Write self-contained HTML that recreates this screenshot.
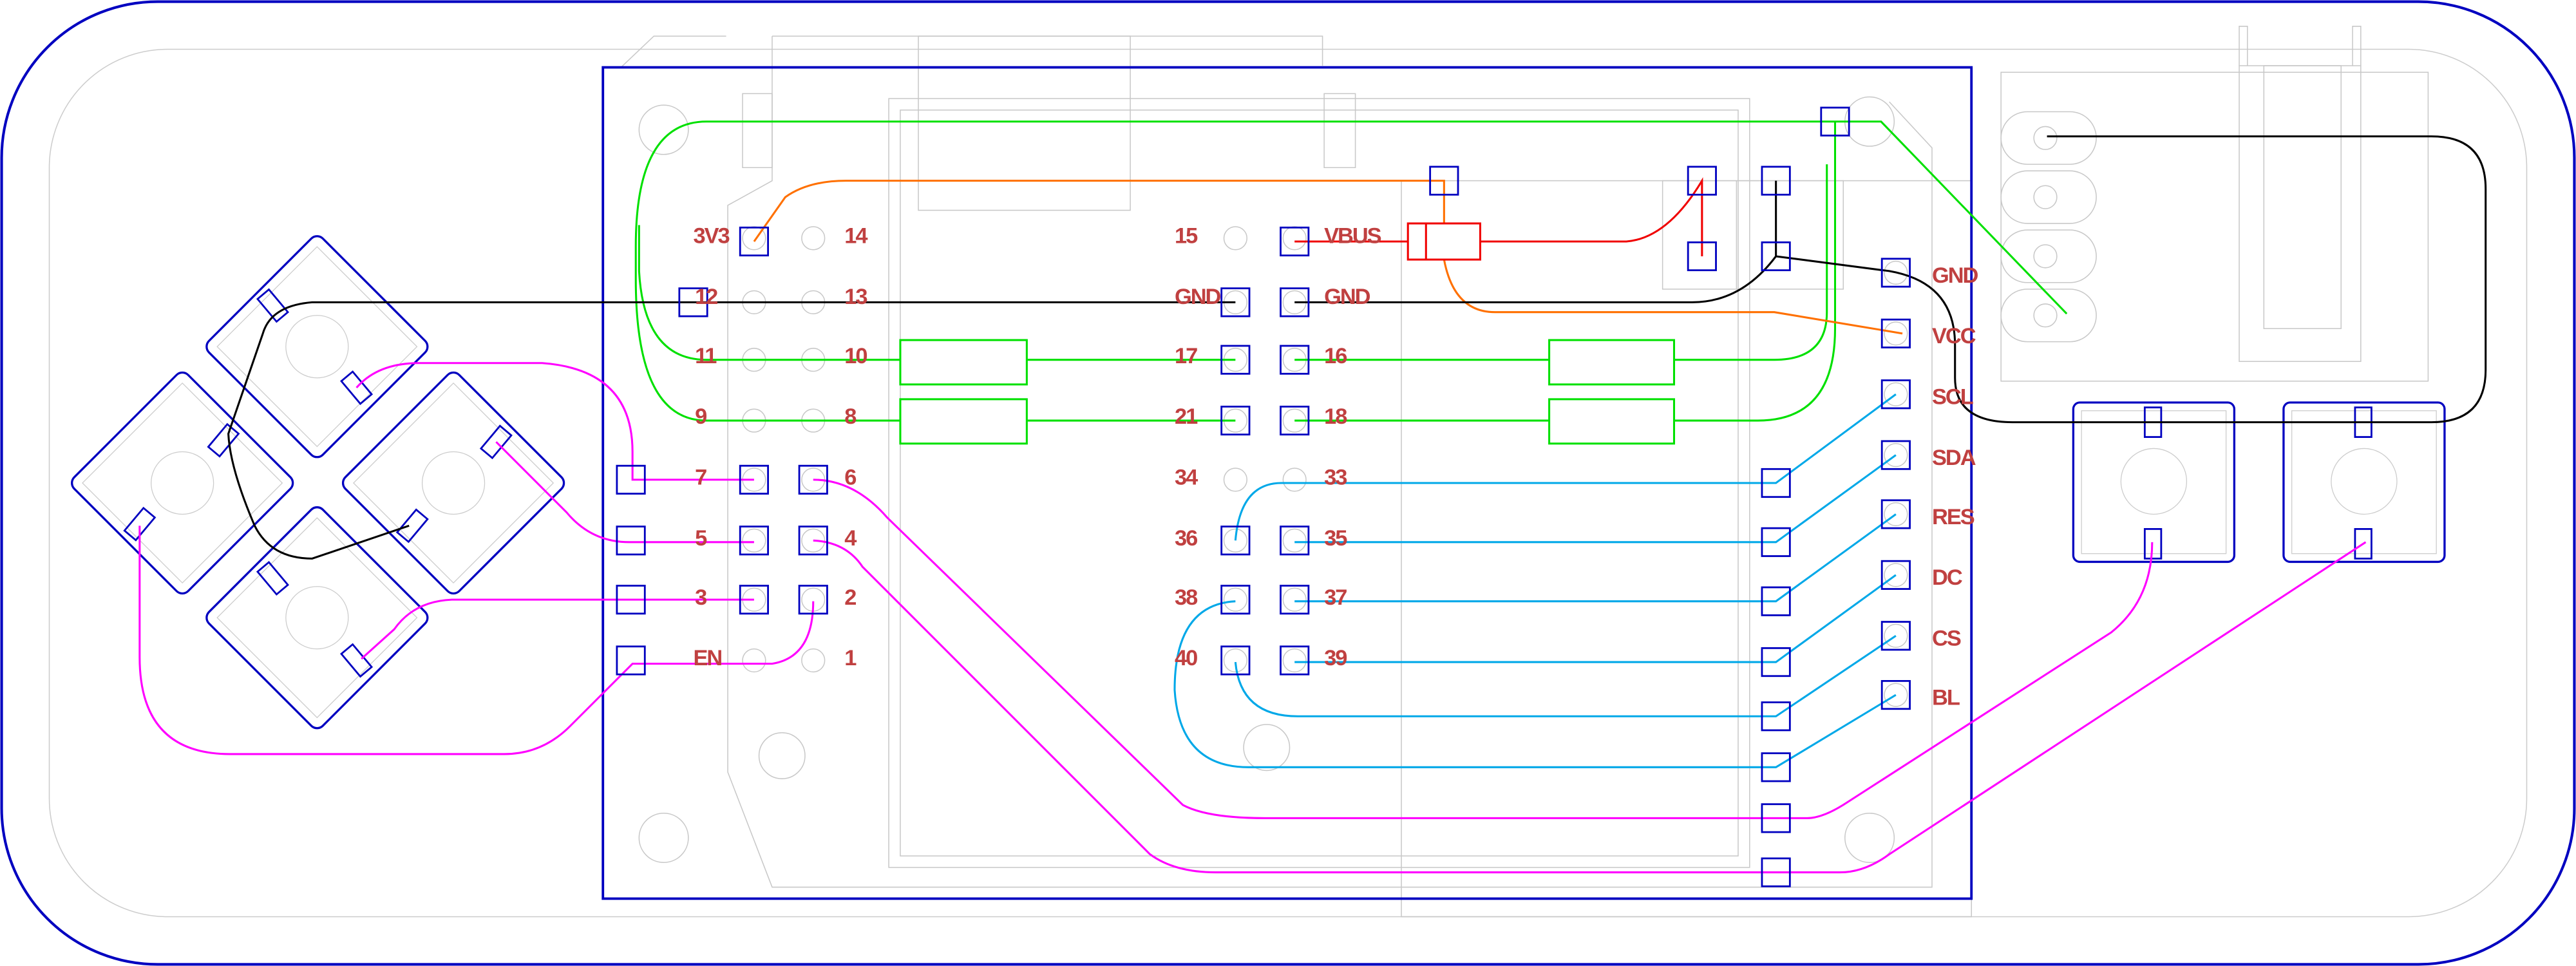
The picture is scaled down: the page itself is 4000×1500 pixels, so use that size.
<!DOCTYPE html>
<html><head><meta charset="utf-8"><style>
html,body{margin:0;padding:0;background:#fff;}
svg{display:block}
text{font-family:"Liberation Sans",sans-serif;font-weight:bold;font-size:13.5px;fill:#c04040;letter-spacing:-0.8px}
</style></head><body>
<svg width="4000" height="1500" viewBox="0 0 1568 588" xmlns="http://www.w3.org/2000/svg">
<rect x="0" y="0" width="1568" height="588" fill="#fff"/>
<rect x="1" y="1" width="1566" height="586" rx="95" fill="none" stroke="#0000c0" stroke-width="1.6"/>
<rect x="30" y="30" width="1508" height="528" rx="72" fill="none" stroke="#ccc" stroke-width="0.6"/>
<g fill="none" stroke="#c8c8c8" stroke-width="0.6">
<path d="M470,22 H805 V40 M470,22 V110 L443,125 V470 L470,540 H1176 V90 L1150,62"/>
<path d="M452,57 H470 V102 H452 Z M806,57 H825 V102 H806 Z"/>
<rect x="559" y="22" width="129" height="106"/>
<rect x="541" y="60" width="524" height="468"/>
<rect x="548" y="67" width="510" height="454"/>
<rect x="853" y="110" width="347" height="448"/>
<rect x="1012" y="110" width="110" height="66"/>
<line x1="1057" y1="110" x2="1057" y2="176"/>
<path d="M378,41 L398,22 H442"/>
<circle cx="404" cy="79" r="15"/><circle cx="404" cy="510" r="15"/>
<circle cx="476" cy="460" r="14"/><circle cx="771" cy="455" r="14"/>
<circle cx="1138" cy="510" r="15"/><circle cx="1138" cy="74" r="15"/>
<rect x="1218" y="44" width="260" height="188"/>
<rect x="1363" y="40" width="74" height="180"/>
<rect x="1378" y="40" width="47" height="160"/>
<path d="M1363,40 V16 H1368 V40 M1432,40 V16 H1437 V40"/>
<rect x="1218" y="68" width="58" height="32" rx="16"/><circle cx="1245" cy="84" r="7"/>
<rect x="1218" y="104" width="58" height="32" rx="16"/><circle cx="1245" cy="120" r="7"/>
<rect x="1218" y="140" width="58" height="32" rx="16"/><circle cx="1245" cy="156" r="7"/>
<rect x="1218" y="176" width="58" height="32" rx="16"/><circle cx="1245" cy="192" r="7"/>
<circle cx="459" cy="145" r="7"/><circle cx="495" cy="145" r="7"/>
<circle cx="459" cy="184" r="7"/><circle cx="495" cy="184" r="7"/>
<circle cx="459" cy="219" r="7"/><circle cx="495" cy="219" r="7"/>
<circle cx="459" cy="256" r="7"/><circle cx="495" cy="256" r="7"/>
<circle cx="459" cy="292" r="7"/><circle cx="495" cy="292" r="7"/>
<circle cx="459" cy="329" r="7"/><circle cx="495" cy="329" r="7"/>
<circle cx="459" cy="365" r="7"/><circle cx="495" cy="365" r="7"/>
<circle cx="459" cy="402" r="7"/><circle cx="495" cy="402" r="7"/>
<circle cx="752" cy="145" r="7"/><circle cx="788" cy="145" r="7"/>
<circle cx="752" cy="184" r="7"/><circle cx="788" cy="184" r="7"/>
<circle cx="752" cy="219" r="7"/><circle cx="788" cy="219" r="7"/>
<circle cx="752" cy="256" r="7"/><circle cx="788" cy="256" r="7"/>
<circle cx="752" cy="292" r="7"/><circle cx="788" cy="292" r="7"/>
<circle cx="752" cy="329" r="7"/><circle cx="788" cy="329" r="7"/>
<circle cx="752" cy="365" r="7"/><circle cx="788" cy="365" r="7"/>
<circle cx="752" cy="402" r="7"/><circle cx="788" cy="402" r="7"/>
<circle cx="1154" cy="166" r="7"/><circle cx="1154" cy="203" r="7"/><circle cx="1154" cy="240" r="7"/><circle cx="1154" cy="277" r="7"/>
<circle cx="1154" cy="313" r="7"/><circle cx="1154" cy="350" r="7"/><circle cx="1154" cy="387" r="7"/><circle cx="1154" cy="423" r="7"/>
</g>
<g fill="none">
<g transform="translate(193,211) rotate(45)">
<rect x="-49" y="-49" width="98" height="98" rx="5" stroke="#0000c0" stroke-width="1.3"/>
<rect x="-43" y="-43" width="86" height="86" stroke="#ccc" stroke-width="0.5"/>
<circle r="19" stroke="#ccc" stroke-width="0.5"/></g>
<g transform="translate(111,294) rotate(45)">
<rect x="-49" y="-49" width="98" height="98" rx="5" stroke="#0000c0" stroke-width="1.3"/>
<rect x="-43" y="-43" width="86" height="86" stroke="#ccc" stroke-width="0.5"/>
<circle r="19" stroke="#ccc" stroke-width="0.5"/></g>
<g transform="translate(276,294) rotate(45)">
<rect x="-49" y="-49" width="98" height="98" rx="5" stroke="#0000c0" stroke-width="1.3"/>
<rect x="-43" y="-43" width="86" height="86" stroke="#ccc" stroke-width="0.5"/>
<circle r="19" stroke="#ccc" stroke-width="0.5"/></g>
<g transform="translate(193,376) rotate(45)">
<rect x="-49" y="-49" width="98" height="98" rx="5" stroke="#0000c0" stroke-width="1.3"/>
<rect x="-43" y="-43" width="86" height="86" stroke="#ccc" stroke-width="0.5"/>
<circle r="19" stroke="#ccc" stroke-width="0.5"/></g>
<g stroke="#0000c0" stroke-width="1.1">
<rect x="-4.5" y="-9" width="9" height="18" transform="translate(166,186) rotate(-40)"/>
<rect x="-4.5" y="-9" width="9" height="18" transform="translate(217,236) rotate(-40)"/>
<rect x="-4.5" y="-9" width="9" height="18" transform="translate(136,268) rotate(40)"/>
<rect x="-4.5" y="-9" width="9" height="18" transform="translate(85,319) rotate(40)"/>
<rect x="-4.5" y="-9" width="9" height="18" transform="translate(302,269) rotate(40)"/>
<rect x="-4.5" y="-9" width="9" height="18" transform="translate(251,320) rotate(40)"/>
<rect x="-4.5" y="-9" width="9" height="18" transform="translate(166,352) rotate(-40)"/>
<rect x="-4.5" y="-9" width="9" height="18" transform="translate(217,402) rotate(-40)"/>
</g>
<rect x="1262" y="245" width="98" height="97" rx="4" stroke="#0000c0" stroke-width="1.3"/>
<rect x="1267" y="250" width="88" height="87" stroke="#ccc" stroke-width="0.5"/>
<circle cx="1311" cy="293" r="20" stroke="#ccc" stroke-width="0.5"/>
<rect x="1390" y="245" width="98" height="97" rx="4" stroke="#0000c0" stroke-width="1.3"/>
<rect x="1395" y="250" width="88" height="87" stroke="#ccc" stroke-width="0.5"/>
<circle cx="1439" cy="293" r="20" stroke="#ccc" stroke-width="0.5"/>
<g stroke="#0000c0" stroke-width="1.1">
<rect x="1305.5" y="248" width="10" height="18"/><rect x="1305.5" y="322" width="10" height="18"/>
<rect x="1433.5" y="248" width="10" height="18"/><rect x="1433.5" y="322" width="10" height="18"/>
</g>
</g>
<rect x="367" y="41" width="833" height="506" fill="none" stroke="#0000c0" stroke-width="1.5"/>
<g fill="none" stroke-width="1.2">
<g stroke="#00e000">
<path d="M1117,74 H430 Q387,74 387,150 V170 Q387,256 430,256 H548 M625,256 H752 M788,256 H943 M1019,256 H1070 Q1117,256 1117,200 V74 H1145 L1258,191"/>
<path d="M389,137 V165 Q392,219 430,219 H548 M625,219 H752 M788,219 H943 M1019,219 H1080 Q1112,219 1112,190 V100"/>
<rect x="548" y="207" width="77" height="27"/><rect x="548" y="243" width="77" height="27"/>
<rect x="943" y="207" width="76" height="27"/><rect x="943" y="243" width="76" height="27"/>
</g>
<path stroke="#ff7000" d="M459,147 L478,120 Q492,110 515,110 H879 V136 M879,158 Q885,190 910,190 H1080 L1158,203"/>
<g stroke="#f00000">
<path d="M788,147 H857 M901,147 H990 Q1015,145 1036,110 V156"/>
<rect x="857" y="136" width="44" height="22"/><line x1="868" y1="136" x2="868" y2="158"/>
</g>
<path stroke="#000" d="M752,184 H190 Q165,186 160,203 L139,264 Q140,285 155,320 Q165,340 190,340 L249,320 M788,184 H1030 Q1060,184 1081,156 V110 M1081,156 L1150,165 Q1190,172 1190,210 V230 Q1190,257 1225,257 H1480 Q1513,257 1513,225 V115 Q1513,83 1480,83 H1246"/>
<g stroke="#00a8e8">
<path d="M752,329 Q755,294 780,294 H1081 L1154,240"/>
<path d="M788,330 H1081 L1154,277"/>
<path d="M788,366 H1081 L1154,313"/>
<path d="M788,403 H1081 L1154,350"/>
<path d="M752,403 Q755,436 790,436 H1081 L1154,387"/>
<path d="M752,366 Q715,368 715,420 Q718,467 760,467 H1081 L1154,423"/>
</g>
<g stroke="#ff00ff">
<path d="M217,236 Q230,221 255,221 H330 Q385,225 385,275 V292 H459"/>
<path d="M302,269 L345,312 Q360,330 383,330 H459"/>
<path d="M459,365 H275 Q252,366 240,383 L220,401"/>
<path d="M85,320 V400 Q85,459 140,459 H307 Q330,459 347,442 L385,404 H470 Q495,400 495,366"/>
<path d="M495,292 Q520,292 540,315 L720,490 Q735,498 770,498 H1100 Q1110,498 1125,488 L1285,385 Q1310,365 1310,330"/>
<path d="M495,329 Q515,330 525,345 L700,520 Q715,531 740,531 H1120 Q1135,531 1150,520 L1440,330"/>
</g>
</g>
<g fill="none" stroke="#0000c0" stroke-width="1.1">
<rect x="450.5" y="138.5" width="17" height="17"/>
<rect x="413.5" y="175.5" width="17" height="17"/>
<rect x="375.5" y="283.5" width="17" height="17"/><rect x="450.5" y="283.5" width="17" height="17"/><rect x="486.5" y="283.5" width="17" height="17"/>
<rect x="375.5" y="320.5" width="17" height="17"/><rect x="450.5" y="320.5" width="17" height="17"/><rect x="486.5" y="320.5" width="17" height="17"/>
<rect x="375.5" y="356.5" width="17" height="17"/><rect x="450.5" y="356.5" width="17" height="17"/><rect x="486.5" y="356.5" width="17" height="17"/>
<rect x="375.5" y="393.5" width="17" height="17"/>
<rect x="779.5" y="138.5" width="17" height="17"/>
<rect x="743.5" y="175.5" width="17" height="17"/><rect x="779.5" y="175.5" width="17" height="17"/>
<rect x="743.5" y="210.5" width="17" height="17"/><rect x="779.5" y="210.5" width="17" height="17"/>
<rect x="743.5" y="247.5" width="17" height="17"/><rect x="779.5" y="247.5" width="17" height="17"/>
<rect x="743.5" y="320.5" width="17" height="17"/><rect x="779.5" y="320.5" width="17" height="17"/>
<rect x="743.5" y="356.5" width="17" height="17"/><rect x="779.5" y="356.5" width="17" height="17"/>
<rect x="743.5" y="393.5" width="17" height="17"/><rect x="779.5" y="393.5" width="17" height="17"/>
<rect x="1072.5" y="285.5" width="17" height="17"/><rect x="1072.5" y="321.5" width="17" height="17"/>
<rect x="1072.5" y="357.5" width="17" height="17"/><rect x="1072.5" y="394.5" width="17" height="17"/>
<rect x="1072.5" y="427.5" width="17" height="17"/><rect x="1072.5" y="458.5" width="17" height="17"/>
<rect x="1072.5" y="489.5" width="17" height="17"/><rect x="1072.5" y="522.5" width="17" height="17"/>
<rect x="1145.5" y="157.5" width="17" height="17"/><rect x="1145.5" y="194.5" width="17" height="17"/>
<rect x="1145.5" y="231.5" width="17" height="17"/><rect x="1145.5" y="268.5" width="17" height="17"/>
<rect x="1145.5" y="304.5" width="17" height="17"/><rect x="1145.5" y="341.5" width="17" height="17"/>
<rect x="1145.5" y="378.5" width="17" height="17"/><rect x="1145.5" y="414.5" width="17" height="17"/>
<rect x="1108.5" y="65.5" width="17" height="17"/>
<rect x="870.5" y="101.5" width="17" height="17"/>
<rect x="1027.5" y="101.5" width="17" height="17"/><rect x="1072.5" y="101.5" width="17" height="17"/>
<rect x="1027.5" y="147.5" width="17" height="17"/><rect x="1072.5" y="147.5" width="17" height="17"/>
</g>
<text x="422" y="148">3V3</text><text x="514" y="148">14</text>
<text x="423" y="185">12</text><text x="514" y="185">13</text>
<text x="423" y="221">11</text><text x="514" y="221">10</text>
<text x="423" y="258">9</text><text x="514" y="258">8</text>
<text x="423" y="295">7</text><text x="514" y="295">6</text>
<text x="423" y="332">5</text><text x="514" y="332">4</text>
<text x="423" y="368">3</text><text x="514" y="368">2</text>
<text x="422" y="405">EN</text><text x="514" y="405">1</text>
<text x="715" y="148">15</text><text x="806" y="148">VBUS</text>
<text x="715" y="185">GND</text><text x="806" y="185">GND</text>
<text x="715" y="221">17</text><text x="806" y="221">16</text>
<text x="715" y="258">21</text><text x="806" y="258">18</text>
<text x="715" y="295">34</text><text x="806" y="295">33</text>
<text x="715" y="332">36</text><text x="806" y="332">35</text>
<text x="715" y="368">38</text><text x="806" y="368">37</text>
<text x="715" y="405">40</text><text x="806" y="405">39</text>
<text x="1176" y="172">GND</text><text x="1176" y="209">VCC</text>
<text x="1176" y="246">SCL</text><text x="1176" y="283">SDA</text>
<text x="1176" y="319">RES</text><text x="1176" y="356">DC</text>
<text x="1176" y="393">CS</text><text x="1176" y="429">BL</text>
</svg>
</body></html>
